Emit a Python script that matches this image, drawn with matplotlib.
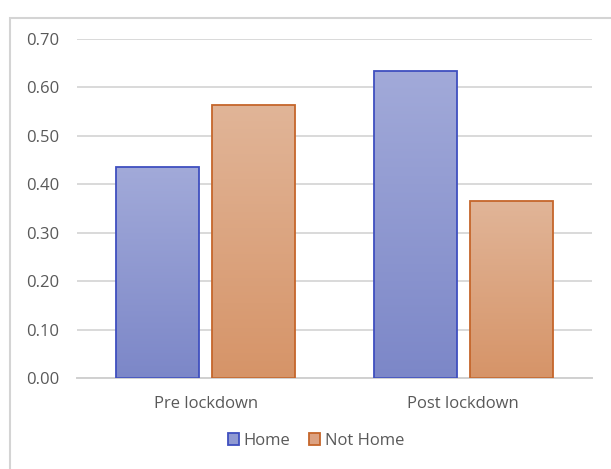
import matplotlib.pyplot as plt
import numpy as np
from matplotlib.patches import Patch, Rectangle

kategorije = ["Pre lockdown", "Post lockdown"]
home = [0.436, 0.634]
not_home = [0.564, 0.366]
y_ticks = [0.0, 0.1, 0.2, 0.3, 0.4, 0.5, 0.6, 0.7]

plt.rcParams['font.family'] = ['Open Sans', 'DejaVu Sans']

fig = plt.figure(figsize=(6.11, 4.69), dpi=100)
ax = fig.add_axes([0.126, 0.194, 0.843, 0.723])

# okvir oko grafa (kao u Excelu)
fig.patches.append(Rectangle((10/611, -0.1), 1.2, 0.1 + 1 - 18/469, transform=fig.transFigure,
                             fill=False, edgecolor="#d4d4d4", linewidth=1.5))

x = np.arange(len(kategorije))
w = 0.322
razmak = 0.05

def gradient_bars(pos, vals, top_col, bot_col, edge):
    bars = ax.bar(pos, vals, width=w, color="none", edgecolor=edge, linewidth=1.3, zorder=3)
    cmap = plt.matplotlib.colors.LinearSegmentedColormap.from_list("g", [bot_col, top_col])
    for b in bars:
        x0 = b.get_x()
        im = ax.imshow(np.linspace(0, 1, 256).reshape(-1, 1), cmap=cmap, aspect="auto",
                       extent=[x0, x0 + b.get_width(), 0, b.get_height()], origin="lower",
                       zorder=2.5)
        im.set_clip_path(b)
    return bars

gradient_bars(x - (w + razmak)/2, home, "#a2aad9", "#7c87c8", "#3f4fbf")
gradient_bars(x + (w + razmak)/2, not_home, "#e1b598", "#d69468", "#c5662b")

ax.set_xlim(-0.5, 1.5)
ax.set_ylim(0, 0.7)
ax.set_yticks(y_ticks)
ax.set_yticklabels(["%.2f" % t for t in y_ticks])
ax.set_xticks(x)
ax.set_xticklabels(kategorije)
ax.tick_params(axis="both", length=0, colors="#595959", labelsize=12)
ax.tick_params(axis="y", pad=13)
ax.tick_params(axis="x", pad=13)
ax.grid(axis="y", color="#d9d9d9", linewidth=1.4, zorder=0)
ax.set_axisbelow(True)
for s in ["top", "right", "left"]:
    ax.spines[s].set_visible(False)
ax.spines["bottom"].set_color("#d0d0d0")
ax.spines["bottom"].set_linewidth(1.4)

handles = [Patch(facecolor="#909ad2", edgecolor="#3f4fbf", linewidth=1.3, label="Home"),
           Patch(facecolor="#dca282", edgecolor="#c5662b", linewidth=1.3, label="Not Home")]
leg = fig.legend(handles=handles, loc="center", bbox_to_anchor=(0.517, 1 - 441/469), ncol=2,
                 frameon=False, handlelength=0.7, handleheight=0.7, handletextpad=0.25,
                 columnspacing=1.1, fontsize=12)
for t in leg.get_texts():
    t.set_color("#595959")

fig.savefig("out.png", dpi=100)
